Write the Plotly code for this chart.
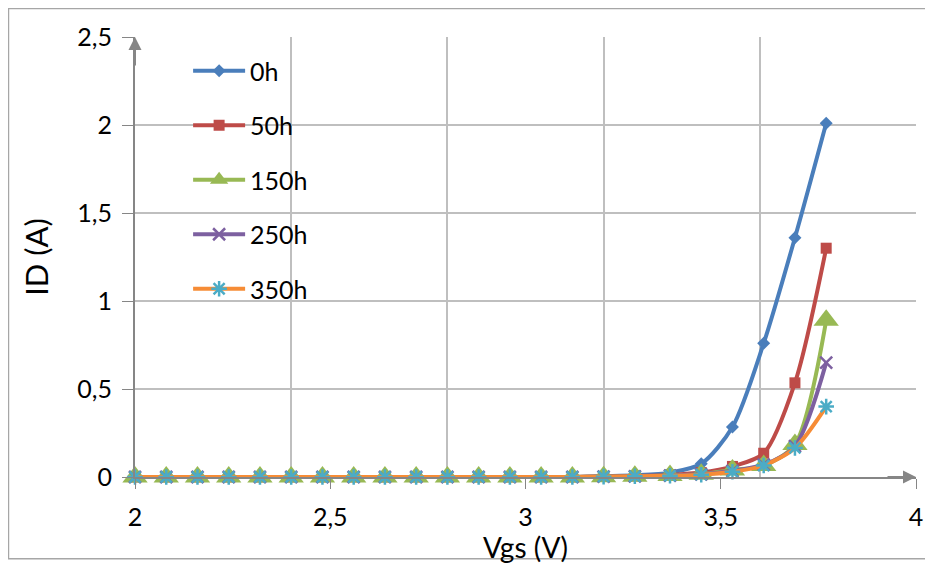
import plotly.graph_objects as go

# ---- data ----
vgs = [2.00, 2.08, 2.16, 2.24, 2.32, 2.40, 2.48, 2.56, 2.64, 2.72, 2.80, 2.88,
       2.96, 3.04, 3.12, 3.20, 3.28, 3.37, 3.45, 3.53, 3.61, 3.69, 3.77]
zeros15 = [0.0] * 15
id_0h = zeros15 + [0.005, 0.010, 0.025, 0.075, 0.284, 0.76, 1.36, 2.01]
id_50h = zeros15 + [0.003, 0.006, 0.012, 0.025, 0.060, 0.135, 0.535, 1.30]
id_150h = zeros15 + [0.002, 0.004, 0.008, 0.015, 0.040, 0.065, 0.185, 0.89]
id_250h = zeros15 + [0.002, 0.004, 0.008, 0.015, 0.035, 0.070, 0.175, 0.65]
id_350h = zeros15 + [0.002, 0.004, 0.007, 0.013, 0.030, 0.065, 0.165, 0.40]

series_names = ["0h", "50h", "150h", "250h", "350h"]
x_tick_vals = [2, 2.5, 3, 3.5, 4]
x_tick_text = ["2", "2,5", "3", "3,5", "4"]

FONT = "Lato"
AXIS = "#868686"
GRID = "#BFBFBF"

styles = [
    dict(line="#4A7EBB", marker=dict(symbol="diamond", size=10, color="#4A7EBB")),
    dict(line="#BE4B48", marker=dict(symbol="square", size=11, color="#BE4B48")),
    dict(line="#98B954", marker=dict(symbol="triangle-up", size=22, color="#98B954")),
    dict(line="#7D60A0", marker=dict(symbol="x-thin-open", size=12, color="#7D60A0",
                                     line=dict(color="#7D60A0", width=2.5))),
    dict(line="#F68C36", marker=dict(symbol="asterisk-open", size=13, color="#4BACC6",
                                     line=dict(color="#4BACC6", width=2.5))),
]
data = [id_0h, id_50h, id_150h, id_250h, id_350h]

fig = go.Figure()
for name, ys, st in zip(series_names, data, styles):
    fig.add_trace(go.Scatter(
        x=vgs, y=ys, name=name, mode="lines+markers",
        line=dict(color=st["line"], width=4, shape="spline", smoothing=0.8),
        marker=st["marker"], cliponaxis=False, legendgroup=name,
    ))

# page has an 8px body margin: figure drawn at (8,8) in the window
fig.update_layout(
    width=925, height=556,
    margin=dict(l=127, r=17, t=29, b=87),
    paper_bgcolor="white", plot_bgcolor="white",
    separators=", ",
    font=dict(family=FONT, size=25, color="#000000"),
    showlegend=True,
    legend=dict(x=0.068, y=0.975, xanchor="left", yanchor="top",
                bgcolor="rgba(0,0,0,0)", tracegroupgap=19,
                font=dict(family=FONT, size=25), itemwidth=52),
    xaxis=dict(range=[2, 4], tickvals=x_tick_vals, ticktext=x_tick_text,
               showgrid=False, zeroline=False, showline=True, linecolor=AXIS,
               linewidth=2, ticks="outside", ticklen=10, tickcolor=AXIS,
               ticklabelstandoff=7, tickfont=dict(size=25), automargin=False,
               title=dict(text="Vgs (V)", standoff=5, font=dict(size=28))),
    xaxis2=dict(range=[2, 4], overlaying="x", anchor="y", side="bottom",
                dtick=0.4, tick0=2, showgrid=True, gridcolor=GRID, gridwidth=1.5,
                showticklabels=False, ticks="", showline=False, zeroline=False,
                automargin=False),
    yaxis=dict(range=[0, 2.5], dtick=0.5, showgrid=True, gridcolor=GRID,
               gridwidth=1.5, zeroline=False, showline=True, linecolor=AXIS,
               linewidth=2, ticks="outside", ticklen=11, tickcolor=AXIS,
               ticklabelstandoff=5, tickfont=dict(size=25), automargin=False,
               title=dict(text="ID (A)", standoff=19, font=dict(size=31))),
)

# invisible trace to keep the gridline axis active
fig.add_trace(go.Scatter(x=[2, 4], y=[0, 0], xaxis="x2", mode="markers",
                         marker=dict(opacity=0), showlegend=False, hoverinfo="skip"))

# axis arrowheads
fig.add_annotation(x=2, y=2.5, xref="x", yref="y", ax=0, ay=30, showarrow=True,
                   arrowhead=2, arrowsize=1.3, arrowwidth=2, arrowcolor=AXIS, text="")
fig.add_annotation(x=4, y=0, xref="x", yref="y", ax=-30, ay=0, showarrow=True,
                   arrowhead=2, arrowsize=1.3, arrowwidth=2, arrowcolor=AXIS, text="")

# chart border
fig.add_shape(type="rect", xref="paper", yref="paper",
              x0=-0.162, x1=1.018, y0=-0.186, y1=1.065,
              line=dict(color="#A6A6A6", width=1.5), fillcolor="rgba(0,0,0,0)",
              layer="below")

fig.write_html("out.html")
